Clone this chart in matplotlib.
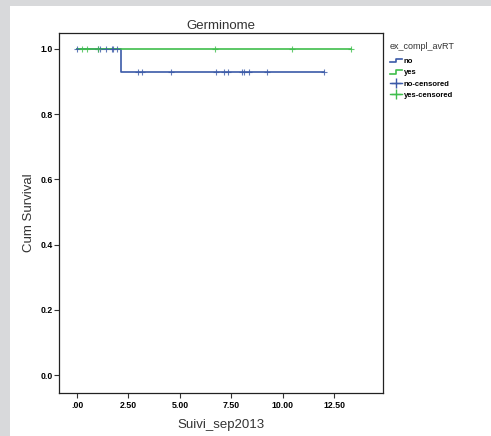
import numpy as np
import matplotlib.pyplot as plt
from matplotlib.lines import Line2D
from matplotlib.patches import Rectangle
from matplotlib.legend_handler import HandlerBase

# Kaplan-Meier steps
no_time = [0.0, 2.14, 2.14, 12.02]
no_surv = [1.0, 1.0, 0.929, 0.929]
no_cens_time = [0.0, 1.04, 1.12, 1.41, 1.69, 1.76, 1.93,
                2.95, 3.14, 4.55, 6.74, 7.15, 7.36, 8.04, 8.13, 8.38, 9.22, 12.02]
no_cens_surv = [1.0] * 7 + [0.929] * 11

yes_time = [0.0, 13.3]
yes_surv = [1.0, 1.0]
yes_cens_time = [0.26, 0.50, 1.0, 6.71, 10.47, 13.3]
yes_cens_surv = [1.0] * 6

xticks = [0, 2.5, 5, 7.5, 10, 12.5]
xticklabels = ['.00', '2.50', '5.00', '7.50', '10.00', '12.50']
yticks = [0.0, 0.2, 0.4, 0.6, 0.8, 1.0]

blue = '#3b5aa8'
green = '#3fbe4c'

plt.rcParams['font.family'] = ['Liberation Sans', 'DejaVu Sans']


class StepHandler(HandlerBase):
    def create_artists(self, legend, orig_handle, xdescent, ydescent,
                       width, height, fontsize, trans):
        xs = np.array([0, 0.5, 0.5, 1.0]) * width - xdescent
        ys = np.array([0.15, 0.15, 0.85, 0.85]) * height - ydescent
        ln = Line2D(xs, ys, color=orig_handle.get_color(), lw=1.2)
        ln.set_transform(trans)
        return [ln]


fig = plt.figure(figsize=(4.91, 4.36), dpi=100)
fig.patch.set_facecolor('#d8d9db')
fig.patches.append(Rectangle((10 / 491, 0), 1, 1 - 6 / 436, transform=fig.transFigure,
                             facecolor='white', edgecolor='none', zorder=-10))

ax = fig.add_axes([59 / 491, 1 - 393 / 436, (383 - 59) / 491, (393 - 33) / 436])
ax.plot(no_time, no_surv, color=blue, lw=1.2)
ax.plot(yes_time, yes_surv, color=green, lw=1.2)
ax.plot(no_cens_time, no_cens_surv, '+', color=blue, ms=5, mew=0.8, alpha=0.8)
ax.plot(yes_cens_time, yes_cens_surv, '+', color=green, ms=5, mew=0.8, alpha=0.8)

ax.set_xlim(-0.875, 14.875)
ax.set_ylim(-0.055, 1.049)
ax.set_xticks(xticks)
ax.set_xticklabels(xticklabels)
ax.set_yticks(yticks)
ax.set_yticklabels([f'{v:.1f}' for v in yticks])
ax.tick_params(labelsize=6.3, length=3.5, width=0.8, color='#333333', pad=1)
ax.tick_params(axis='x', pad=2.5)
for lab in ax.get_xticklabels() + ax.get_yticklabels():
    lab.set_fontweight('bold')
for s in ax.spines.values():
    s.set_linewidth(0.9)
    s.set_color('#222222')

ax.set_title('Germinome', fontsize=9.5, color='#333333', pad=3)
ax.set_xlabel('Suivi_sep2013', fontsize=9.5, color='#333333', labelpad=6)
ax.set_ylabel('Cum Survival', fontsize=9.5, color='#333333', labelpad=4)

handles = [Line2D([], [], color=blue), Line2D([], [], color=green),
           Line2D([], [], color=blue, marker='+', ms=7, lw=1),
           Line2D([], [], color=green, marker='+', ms=7, lw=1)]
labels = ['no', 'yes', 'no-censored', 'yes-censored']
leg = ax.legend(handles, labels, title='ex_compl_avRT',
                handler_map={handles[0]: StepHandler(), handles[1]: StepHandler()},
                loc='upper left', bbox_to_anchor=(1.005, 0.99), frameon=False,
                fontsize=5.5, title_fontsize=6.5, handlelength=1.6,
                handletextpad=0.2, labelspacing=0.5, borderaxespad=0.3,
                alignment='left')
leg._legend_box.sep = 5
for t in leg.get_texts():
    t.set_fontweight('bold')
leg.get_title().set_color('#333333')

fig.savefig('out.png', dpi=100)
